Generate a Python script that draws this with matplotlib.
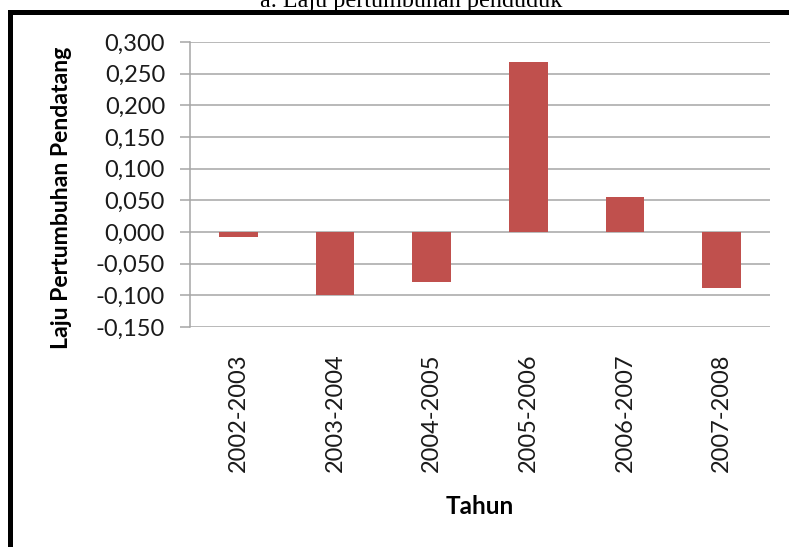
# -*- coding: utf-8 -*-
"""
Grafik laju pertumbuhan pendatang per periode tahun (bar chart gaya Excel).
Output: out.png
"""

import matplotlib
matplotlib.use("Agg")
import matplotlib.pyplot as plt
from matplotlib.patches import Rectangle
from matplotlib.ticker import FuncFormatter, MultipleLocator

# ──────────────────────────────────────────────
# Data
# ──────────────────────────────────────────────
PERIODE = ["2002-2003", "2003-2004", "2004-2005", "2005-2006", "2006-2007", "2007-2008"]
LAJU = [-0.008, -0.100, -0.079, 0.268, 0.056, -0.089]

JUDUL = "a. Laju pertumbuhan penduduk"
LABEL_Y = "Laju Pertumbuhan Pendatang"
LABEL_X = "Tahun"

BAR_COLOR = "#C0504D"
GRID_COLOR = "#A6A6A6"
FONT = ["Lato", "DejaVu Sans"]
# ──────────────────────────────────────────────

W, H = 789, 547


def koma(v, _pos):
    # format desimal Indonesia: 0,050
    return f"{v:.3f}".replace(".", ",")


def main():
    plt.rcParams["font.family"] = FONT
    fig = plt.figure(figsize=(W / 100, H / 100), dpi=100)
    fig.patch.set_facecolor("white")

    ax = fig.add_axes([190 / W, 1 - 327 / H, 580 / W, 285 / H])
    x = range(len(PERIODE))
    ax.bar(x, LAJU, width=0.4, color=BAR_COLOR, zorder=3)

    ax.set_xlim(-0.5, len(PERIODE) - 0.5)
    ax.set_ylim(-0.150, 0.300)
    ax.yaxis.set_major_locator(MultipleLocator(0.05))
    ax.yaxis.set_major_formatter(FuncFormatter(koma))
    ax.grid(axis="y", color=GRID_COLOR, linewidth=1.1, zorder=0)

    ax.set_xticks(list(x))
    ax.set_xticklabels(PERIODE, rotation=90, fontsize=17, color="#1a1a1a")
    ax.tick_params(axis="x", length=0, pad=19)
    ax.tick_params(axis="y", labelsize=17, length=7, width=1.1,
                   color=GRID_COLOR, pad=11, labelcolor="#1a1a1a")

    for s in ["top", "right", "bottom"]:
        ax.spines[s].set_visible(False)
    ax.spines["left"].set_color(GRID_COLOR)
    ax.spines["left"].set_linewidth(1.1)

    fig.text(62 / W, 1 - 198 / H, LABEL_Y, rotation=90, ha="center", va="center",
             fontsize=16.6, fontweight="bold")
    fig.text(480 / W, 1 - 507 / H, LABEL_X, ha="center", va="center",
             fontsize=17.5, fontweight="bold")

    # judul terpotong di atas bingkai
    fig.text(411 / W, 1 - 7 / H, JUDUL, ha="center", va="baseline",
             fontsize=17.4, family="Liberation Serif", zorder=1)

    # bingkai hitam tebal (kiri & atas)
    frame = Rectangle((9.5 / W, -0.2), 1.2, 1.2 - 11.5 / H,
                      transform=fig.transFigure, fill=False,
                      edgecolor="black", linewidth=3.6, clip_on=False, zorder=10)
    fig.add_artist(frame)

    fig.savefig("out.png", dpi=100)
    plt.close(fig)


if __name__ == "__main__":
    main()
